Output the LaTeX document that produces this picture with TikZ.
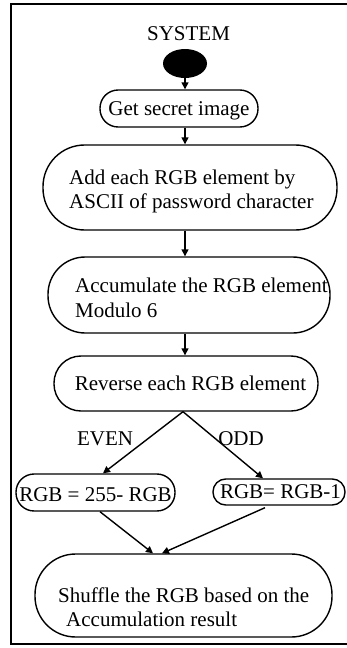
\documentclass[tikz,border=0pt]{standalone}
\usepackage{fontspec}
\setmainfont{Liberation Serif}
\usetikzlibrary{arrows.meta,shapes.geometric,calc}

\tikzset{
  stadium/.style n args={2}{draw, line width=1.4pt, inner sep=0pt,
    minimum width=#1, minimum height=#2, rounded corners=0.49*#2},
  txt/.style={inner sep=0pt, font=\fontsize{21}{25}\selectfont},
  flow/.style={line width=1.4pt, -{Triangle[length=7pt,width=7pt]}},
  frame/.style={line width=2.2pt},
}

\begin{document}
\begin{tikzpicture}[x=1pt,y=-1pt]
\useasboundingbox (0,0) rectangle (347,648);
\clip (0,0) rectangle (347,648);

% outer frame (its right side runs off the page)
\draw[frame] (360,4) -| (11,644) -- (360,644);

% start
\node[txt, anchor=base] (sys) at (188.5,40) {SYSTEM};
\node[ellipse, fill=black, inner sep=0pt, minimum width=44, minimum height=29] (start) at (185,63.5) {};

% process boxes
\node[stadium={158}{37}] (get) at (179,108.5) {};
\node[txt, anchor=base] (getT) at (179,115) {Get secret image};

\node[stadium={294}{85}] (add) at (190,187.5) {};
\node[txt, anchor=base west] (addA) at (69,184) {Add each RGB element by};
\node[txt, anchor=base west] (addB) at (69,208) {ASCII of password character};

\node[stadium={282}{76}] (acc) at (189,295) {};
\node[txt, anchor=base west] (accA) at (75,292) {Accumulate the RGB element};
\node[txt, anchor=base west] (accB) at (75,317) {Modulo 6};

\node[stadium={264}{55}] (rev) at (186,383.5) {};
\node[txt, anchor=base] (revT) at (190.5,390) {Reverse each RGB element};

\node[stadium={159}{37}] (even) at (95.5,492.5) {};
\node[txt, anchor=base] (evenT) at (95.5,501) {RGB = 255- RGB};

\node[stadium={132}{26}] (odd) at (279,492) {};
\node[txt, anchor=base] (oddT) at (280.5,498) {RGB= RGB-1};

\node[stadium={297}{83}] (shuf) at (183.5,595.5) {};
\node[txt, anchor=base west] (shufA) at (58,602) {Shuffle the RGB based on the};
\node[txt, anchor=base west] (shufB) at (66,626) {Accumulation result};

% branch labels
\node[txt, anchor=base] (lblEven) at (105,445) {EVEN};
\node[txt, anchor=base] (lblOdd) at (241,445) {ODD};

% connectors
\draw[flow] (start.south) -- (start.south |- get.north);
\draw[flow] (get.south -| start.south) -- (add.north -| start.south);
\draw[flow] (add.south -| start.south) -- (acc.north -| start.south);
\draw[flow] (acc.south -| start.south) -- (rev.north -| start.south);
\draw[flow] ($(rev.south)+(-3,0)$) -- ($(even.north)+(7.5,0)$);
\draw[flow] ($(rev.south)+(-3,0)$) -- ($(odd.north)+(-16,0)$);
\draw[flow] ($(even.south)+(4.5,0)$) -- ($(shuf.north)+(-30.5,0)$);
\draw[flow] ($(odd.south)+(-14,2)$) -- ($(shuf.north)+(-21.5,0)$);
\end{tikzpicture}
\end{document}
